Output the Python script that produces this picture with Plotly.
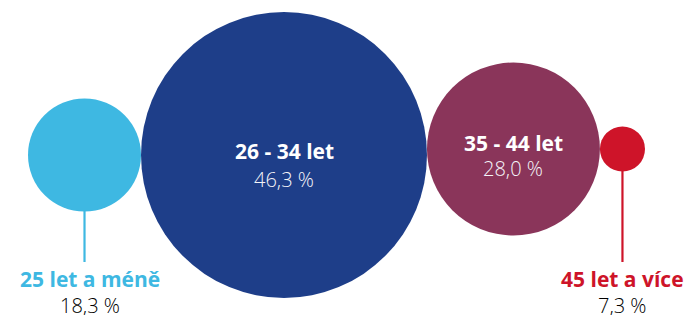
import numpy as np
import plotly.graph_objects as go

# ---- data ----
categories = ["25 let a méně", "26 - 34 let", "35 - 44 let", "45 let a více"]
values = [18.3, 46.3, 28.0, 7.3]
value_labels = ["18,3 %", "46,3 %", "28,0 %", "7,3 %"]

# ---- style / layout ----
colors = ["#3eb8e2", "#1e3e89", "#8a355a", "#ce1429"]
inside = [False, True, True, False]
W, H = 686, 315
left_edge = 28.0
right_edge = 645.0
center_y = [155, 155, 149, 149]
stem_end_y = 262
label_dx = [5, 0, 0, 0]
inner_title_dy = [0, -4, -6.5, 0]
inner_value_dy = [0, 24, 19.5, 0]
outer_title_y = 279
outer_value_y = 305
FONT = "Open Sans"

vals = np.array(values, dtype=float)
scale = (right_edge - left_edge) / vals.sum()  # px of diameter per unit
diam = vals * scale
cx = left_edge + np.cumsum(diam) - diam / 2

fig = go.Figure()

# stems for outside labels
for i, v in enumerate(values):
    if not inside[i]:
        fig.add_trace(go.Scatter(
            x=[cx[i], cx[i]], y=[center_y[i] + diam[i] / 2 - 2, stem_end_y],
            mode="lines", line=dict(color=colors[i], width=2.2),
            hoverinfo="skip", showlegend=False))

fig.add_trace(go.Scatter(
    x=cx, y=center_y, mode="markers",
    marker=dict(size=diam, sizemode="diameter", sizeref=1, color=colors,
                line=dict(width=0), opacity=1),
    text=categories, hoverinfo="text", showlegend=False))

annotations = []
for i, (cat, lab) in enumerate(zip(categories, value_labels)):
    if inside[i]:
        annotations.append(dict(x=cx[i], y=center_y[i] + inner_title_dy[i], text=f"<b>{cat}</b>",
                                showarrow=False, xanchor="center", yanchor="middle",
                                font=dict(family=FONT, size=21, color="#ffffff", weight=700)))
        annotations.append(dict(x=cx[i], y=center_y[i] + inner_value_dy[i], text=lab,
                                showarrow=False, xanchor="center", yanchor="middle",
                                font=dict(family=FONT, size=20, color="#f4f4f8", weight=300)))
    else:
        annotations.append(dict(x=cx[i] + label_dx[i], y=outer_title_y, text=f"<b>{cat}</b>",
                                showarrow=False, xanchor="center", yanchor="middle",
                                font=dict(family=FONT, size=21, color=colors[i], weight=700)))
        annotations.append(dict(x=cx[i] + label_dx[i], y=outer_value_y, text=lab,
                                showarrow=False, xanchor="center", yanchor="middle",
                                font=dict(family=FONT, size=20, color="#000000", weight=300)))

fig.update_layout(
    width=W, height=H,
    margin=dict(l=0, r=0, t=0, b=0),
    paper_bgcolor="white", plot_bgcolor="white",
    xaxis=dict(range=[0, W], visible=False, fixedrange=True),
    yaxis=dict(range=[H, 0], visible=False, fixedrange=True),
    annotations=annotations,
    showlegend=False,
)

fig.write_html("out.html", config={"displayModeBar": False},
               post_script="document.body.style.margin='0';document.body.style.overflow='hidden';")
